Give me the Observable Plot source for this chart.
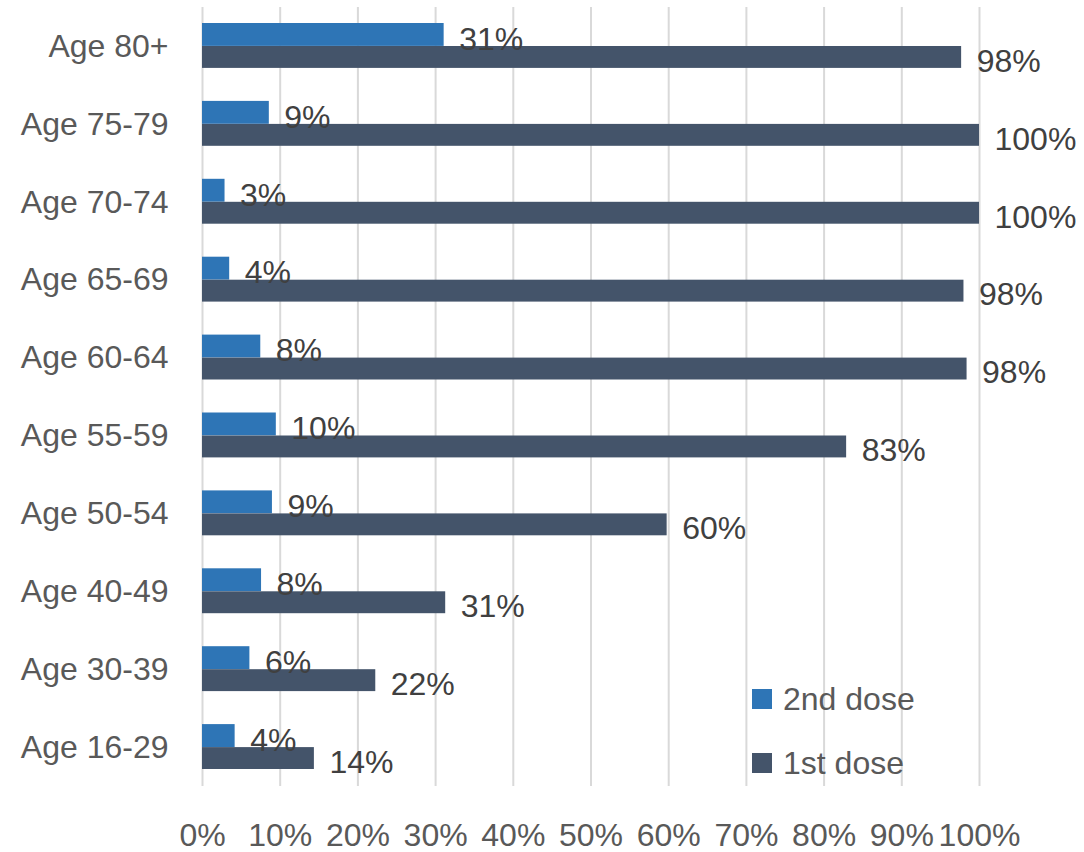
<!DOCTYPE html>
<html>
<head>
<meta charset="utf-8">
<script src="https://cdn.jsdelivr.net/npm/d3@7"></script>
<script src="https://cdn.jsdelivr.net/npm/@observablehq/plot@0.6"></script>
<style>
  html, body { margin: 0; padding: 0; background: #fff; }
  #wrap { position: relative; width: 1084px; height: 852px; font-family: "Liberation Sans", Arial, sans-serif; }
  .legend { position: absolute; left: 752px; font-size: 32px; color: #595959; }
  .legend .item { position: absolute; display: flex; align-items: center; white-space: nowrap; }
  .legend .sw { width: 20px; height: 20px; margin-right: 11px; }
</style>
</head>
<body>
<div id="wrap"></div>
<script>
// ---- data ----
const categories = ["Age 80+", "Age 75-79", "Age 70-74", "Age 65-69", "Age 60-64", "Age 55-59", "Age 50-54", "Age 40-49", "Age 30-39", "Age 16-29"];
const secondDose = [31.1, 8.6, 2.9, 3.5, 7.5, 9.5, 9.0, 7.6, 6.1, 4.2];
const firstDose  = [97.7, 100, 100, 98.0, 98.4, 82.9, 59.8, 31.3, 22.3, 14.4];
const xTicks = [0, 10, 20, 30, 40, 50, 60, 70, 80, 90, 100];
const seriesNames = ["2nd dose", "1st dose"];
const seriesColors = ["#2E75B6", "#44546A"];

const rowsSecond = categories.map((c, i) => ({category: c, value: secondDose[i]}));
const rowsFirst = categories.map((c, i) => ({category: c, value: firstDose[i]}));
const fmt = d => Math.round(d.value) + "%";

const chart = Plot.plot({
  width: 1084,
  height: 852,
  marginLeft: 202,
  marginRight: 105,
  marginTop: 7,
  marginBottom: 66,
  style: {fontFamily: "Liberation Sans, Arial, sans-serif", fontSize: "32px", color: "#595959", background: "#fff"},
  x: {domain: [0, 100], ticks: xTicks, tickFormat: d => d + "%"},
  y: {type: "band", domain: categories, padding: 0, round: false},
  marks: [
    Plot.gridX(xTicks, {stroke: "#d9d9d9", strokeOpacity: 1, strokeWidth: 2}),
    Plot.barX(rowsSecond, {x: "value", y: "category", fill: seriesColors[0], insetTop: 16, insetBottom: 39}),
    Plot.barX(rowsFirst, {x: "value", y: "category", fill: seriesColors[1], insetTop: 39, insetBottom: 17}),
    Plot.text(rowsSecond, {x: "value", y: "category", text: fmt, textAnchor: "start", dx: 15, dy: -7, fill: "#404040", fontSize: 32}),
    Plot.text(rowsFirst, {x: "value", y: "category", text: fmt, textAnchor: "start", dx: 15, dy: 15, fill: "#404040", fontSize: 32}),
    Plot.axisX({ticks: xTicks, tickFormat: d => d + "%", tickSize: 0, tickPadding: 37, label: null, fontSize: 32}),
    Plot.axisY({tickSize: 0, tickPadding: 34, label: null, fontSize: 32})
  ]
});

const wrap = document.getElementById("wrap");
wrap.appendChild(chart);

// legend (HTML overlay inside the plot area)
const legend = document.createElement("div");
legend.className = "legend";
const tops = [683, 747];
seriesNames.forEach((name, i) => {
  const item = document.createElement("div");
  item.className = "item";
  item.style.top = tops[i] + "px";
  item.style.height = "32px";
  const sw = document.createElement("div");
  sw.className = "sw";
  sw.style.background = seriesColors[i];
  const t = document.createElement("span");
  t.textContent = name;
  item.appendChild(sw);
  item.appendChild(t);
  legend.appendChild(item);
});
legend.style.top = "0px";
wrap.appendChild(legend);
</script>
</body>
</html>
